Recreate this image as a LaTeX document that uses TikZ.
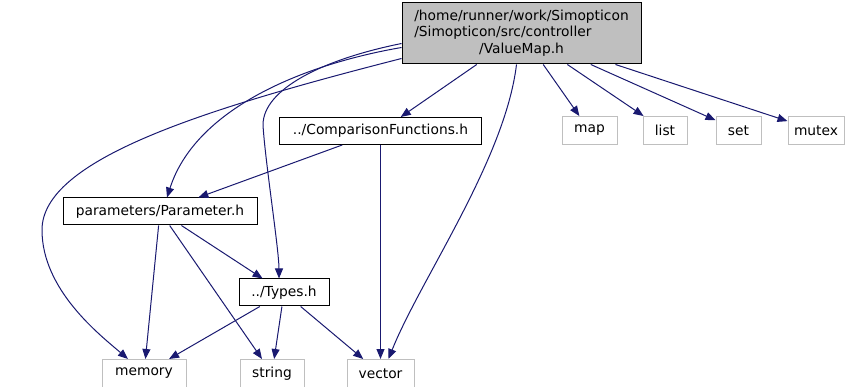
\documentclass[tikz,border=0pt]{standalone}
\usepackage{fontspec}
\setmainfont{DejaVu Sans}
\usetikzlibrary{arrows.meta}
\definecolor{edgeblue}{HTML}{191970}
\definecolor{sysgray}{HTML}{BFBFBF}
\begin{document}
\begin{tikzpicture}[
  x=1pt, y=-1pt,
  every node/.style={font=\fontsize{13.8}{16.5}\selectfont, inner sep=0pt},
  file/.style={rectangle, draw=black, line width=1pt, minimum height=27pt, align=center},
  sysfile/.style={rectangle, draw=sysgray, line width=1pt, minimum height=28pt, align=center},
  rootfile/.style={rectangle, draw=black, fill=sysgray, line width=1pt, minimum width=239pt, minimum height=61pt},
  dep/.style={draw=edgeblue, line width=1pt, -{Triangle[length=10pt,width=8pt]}},
]
\useasboundingbox (0,0) rectangle (846,387);

% Nodes
\node[rootfile] (main) at (521.5, 33.5) {\begin{tabular}{@{}l@{}}/home/runner/work/Simopticon\\/Simopticon/src/controller\\\multicolumn{1}{@{}c@{}}{/ValueMap.h}\end{tabular}};
\node[file, minimum width=202pt] (cmp) at (380.5, 131) {../ComparisonFunctions.h};
\node[file, minimum width=194pt] (para) at (160, 211.5) {parameters/Parameter.h};
\node[file, minimum width=90pt] (types) at (284, 292.5) {../Types.h};
\node[sysfile, minimum width=84pt] (mem) at (144, 373.5) {memory};
\node[sysfile, minimum width=64pt] (str) at (272, 373.5) {string};
\node[sysfile, minimum width=67pt] (vec) at (380.5, 373.5) {vector};
\node[sysfile, minimum width=55pt] (map) at (589.5, 130.5) {map};
\node[sysfile, minimum width=44pt] (list) at (665, 130.5) {list};
\node[sysfile, minimum width=45pt] (set) at (738.5, 130.5) {set};
\node[sysfile, minimum width=56pt] (mutex) at (816, 130.5) {mutex};

% Edges from ValueMap.h
\draw[dep] ([yshift=-25pt]main.west) .. controls (200,110) and (42,160) .. (42,230)
  .. controls (42,290) and (100,335) .. ([xshift=-16pt]mem.north);
\draw[dep] ([yshift=-14pt]main.west) .. controls (300,65) and (195,110) .. ([xshift=7pt]para.north);
\draw[dep] ([yshift=-10pt]main.west) .. controls (320,60) and (263,90) .. (263,125)
  .. controls (265,160) and (279,250) .. ([xshift=-5pt]types.north);
\draw[dep] (main) -- (cmp);
\draw[dep] ([xshift=-5pt]main.south) .. controls (505,160) and (420,280) .. ([xshift=8pt]vec.north);
\draw[dep] (main) -- (map);
\draw[dep] (main) -- (list);
\draw[dep] (main) -- (set);
\draw[dep] (main) -- (mutex);

% Edges from ComparisonFunctions.h
\draw[dep] (cmp) -- (para);
\draw[dep] (cmp) -- (vec);

% Edges from Parameter.h
\draw[dep] (para) -- (mem);
\draw[dep] (para) -- (str);
\draw[dep] (para) -- (types);

% Edges from Types.h
\draw[dep] (types) -- (mem);
\draw[dep] (types) -- (str);
\draw[dep] (types) -- (vec);

\end{tikzpicture}
\end{document}
